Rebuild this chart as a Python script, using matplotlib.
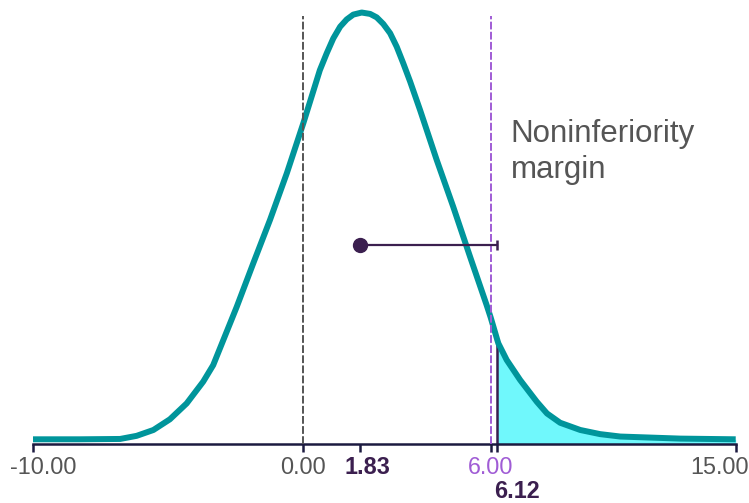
import numpy as np
import matplotlib
matplotlib.use("Agg")
import matplotlib.pyplot as plt

# ---- data ----
curve_x = [-10.0, -8.25, -6.77, -6.16, -5.54, -4.93, -4.31, -3.70, -3.33, -2.46, -1.85,
           -1.23, -0.61, 0.0, 0.53, 0.75, 0.96, 1.18, 1.39, 1.60, 1.87, 2.14, 2.35, 2.56,
           2.78, 2.99, 3.20, 3.42, 3.74, 4.27, 4.80, 5.34, 5.87, 6.00, 6.12, 6.16, 6.47,
           6.97, 7.59, 7.97, 8.46, 9.21, 9.95, 10.70, 12.94, 15.0]
curve_y = [0.0, 0.0, 0.0001, 0.0010, 0.0027, 0.0058, 0.0104, 0.0167, 0.0215, 0.0384, 0.0510,
           0.0636, 0.0771, 0.0916, 0.1070, 0.1119, 0.1162, 0.1196, 0.1217, 0.1231, 0.1237,
           0.1233, 0.1223, 0.1204, 0.1177, 0.1138, 0.1090, 0.1037, 0.0954, 0.0810, 0.0674,
           0.0529, 0.0389, 0.0353, 0.0288, 0.0278, 0.0230, 0.0172, 0.0109, 0.0075, 0.0048,
           0.0027, 0.0015, 0.0008, 0.0002, 0.0]
estimate = 1.83
upper_bound = 6.12
margin = 6.00
point_height = 0.0563
tick_values = [-10.0, 0.0, 1.83, 6.00, 6.12, 15.0]
tick_texts = ["-10.00", "0.00", "1.83", "6.00", "6.12", "15.00"]
annotation_lines = ["Noninferiority", "margin"]

# ---- style ----
W, H, DPI = 749, 503, 100
teal = "#00959B"
cyan = "#70F8FC"
dark = "#3B1F4F"
purple = "#A05CD5"
gray = "#555555"
axis_col = "#1C1A40"
plt.rcParams["font.family"] = ["Liberation Sans", "DejaVu Sans"]

# piecewise axis scale (as in the reference)
knots_data = [-10.0, 0.0, 6.0, 6.12, 15.0]
knots_pos = [32.7, 303.3, 490.7, 497.3, 735.7]
fwd = lambda v: np.interp(v, knots_data, knots_pos)
inv = lambda p: np.interp(p, knots_pos, knots_data)

fig = plt.figure(figsize=(W / DPI, H / DPI), dpi=DPI)
ax_bottom_px = 444.0
ax = fig.add_axes([32.7 / W, (H - ax_bottom_px) / H, 703.0 / W, ax_bottom_px / H])
ax.set_xscale("function", functions=(fwd, inv))
ax.set_xlim(-10, 15)
ybot = -4.7 / 3450
ytop = 439.3 / 3450
ax.set_ylim(ybot, ytop)

cx = np.array(curve_x)
cy = np.array(curve_y)

# shaded tail
y_ub = np.interp(upper_bound, cx, cy)
mask = cx >= upper_bound
ax.fill_between(cx[mask], ybot, cy[mask], color=cyan, lw=0, zorder=1)
ax.vlines(upper_bound, ybot, y_ub, color=dark, lw=1.8, zorder=2)

# curve
ax.plot(cx, cy, color=teal, lw=4.3, solid_capstyle="butt", solid_joinstyle="round", zorder=3)

# reference lines
line_top = (439.3 - 16) / 3450
ax.vlines(0.0, ybot, line_top, color=gray, lw=1.4, linestyles=(0, (4, 1.2)), zorder=4)
ax.vlines(margin, ybot, line_top, color=purple, lw=1.4, linestyles=(0, (4, 1.2)), zorder=4)

# estimate and one-sided interval
ax.plot([estimate, upper_bound], [point_height, point_height], color=dark, lw=1.6, zorder=5)
ax.plot([upper_bound], [point_height], marker="|", markersize=7, mew=1.8, color=dark, zorder=5)
ax.plot([estimate], [point_height], marker="o", markersize=10, color=dark, zorder=6)

# axis
for s in ["top", "right", "left"]:
    ax.spines[s].set_visible(False)
ax.spines["bottom"].set_color(axis_col)
ax.spines["bottom"].set_linewidth(1.8)
ax.spines["bottom"].set_position(("data", ybot))
ax.set_yticks([])
ax.set_xticks(tick_values)
ax.set_xticklabels([""] * len(tick_values))
ax.tick_params(axis="x", length=6, width=1.8, color=axis_col, direction="out")
ax.xaxis.set_minor_locator(matplotlib.ticker.NullLocator())
ax.patch.set_alpha(0)

# tick labels placed as text
px2pt = 72.0 / DPI
label_dx = [11, 0, 7, 0, 20, -16]
label_dy = [23, 23, 23, 23, 47, 23]
label_col = [gray, gray, dark, purple, dark, gray]
label_wt = ["normal", "normal", "bold", "normal", "bold", "normal"]
for v, t, dx, dy, c, w in zip(tick_values, tick_texts, label_dx, label_dy, label_col, label_wt):
    ax.annotate(t, xy=(v, 0), xycoords=("data", "axes fraction"),
                xytext=(dx * px2pt, -dy * px2pt), textcoords="offset points",
                ha="center", va="center", fontsize=16.8, color=c, fontweight=w,
                annotation_clip=False)

# annotation text
fig.text(510.5 / W, 1 - 141.7 / H, annotation_lines[0], fontsize=22.5, color=gray,
         ha="left", va="baseline")
fig.text(510.5 / W, 1 - 178.3 / H, annotation_lines[1], fontsize=22.5, color=gray,
         ha="left", va="baseline")

fig.savefig("out.png", dpi=DPI)
